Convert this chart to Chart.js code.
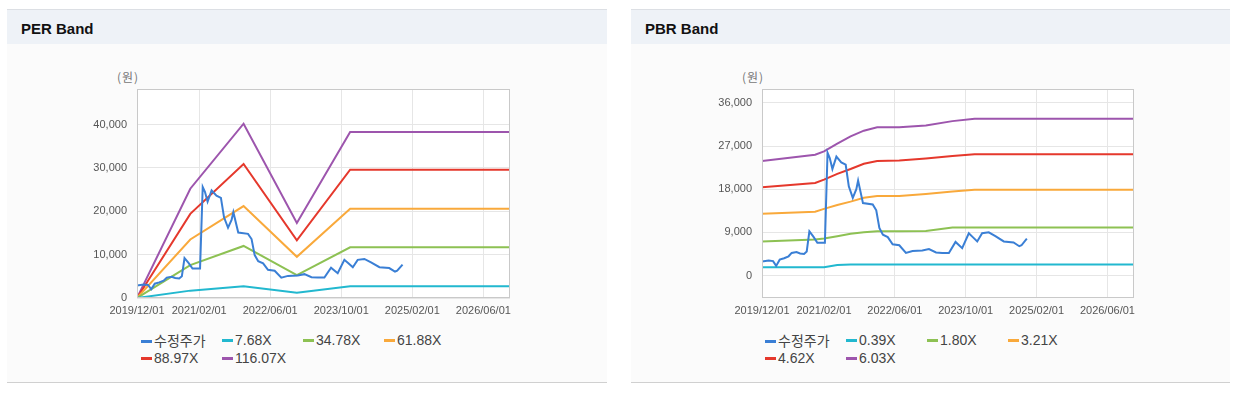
<!DOCTYPE html>
<html>
<head>
<meta charset="utf-8">
<script src="https://cdn.jsdelivr.net/npm/chart.js@4.4.1/dist/chart.umd.min.js"></script>
<style>
    body { margin: 0; width: 1239px; height: 393px; position: relative; overflow: hidden; background: #fff;
           font-family: "Liberation Sans", Arial, "Noto Sans CJK KR", sans-serif; }
    .panel { position: absolute; top: 9px; height: 372px; background: #fbfbfb;
             border-top: 1px solid #dcdfe4; border-bottom: 1px solid #d0d0d0; }
    .head { height: 34px; background: #eef2f7; font-weight: bold; font-size: 15px; line-height: 37px;
            padding-left: 14px; color: #111; }
    .unit { position: absolute; top: 68px; font-size: 12px; color: #777; letter-spacing: 1px;
            font-family: "Noto Sans CJK KR", sans-serif; }
    canvas { position: absolute; }
    .legend { position: absolute; font-size: 14px; color: #444; }
    .legend span { position: absolute; white-space: nowrap; line-height: 17px; }
    .legend i { display: inline-block; width: 11px; height: 3px; vertical-align: middle; margin-right: 2px; position: relative; top: -1px; }
    .legend .kr { font-family: "Noto Sans CJK KR", sans-serif; font-size: 14px; }
</style>
</head>
<body>
<div class="panel" style="left:7px;width:600px;"><div class="head">PER Band</div></div>
<div class="panel" style="left:631px;width:599px;"><div class="head">PBR Band</div></div>
<div class="unit" style="left:117px;">(원)</div>
<div class="unit" style="left:742px;">(원)</div>
<canvas id="per" width="440" height="240" style="left:80px;top:80px;"></canvas>
<canvas id="pbr" width="440" height="240" style="left:704px;top:80px;"></canvas>
<div class="legend" id="per-legend" style="left:141px;top:332px;"></div>
<div class="legend" id="pbr-legend" style="left:765px;top:332px;"></div>
<script>
// x 축: 2019/12 부터의 개월 수
const xTickMonths = [0, 14, 30, 46, 62, 78];
const xTickLabels = ['2019/12/01', '2021/02/01', '2022/06/01', '2023/10/01', '2025/02/01', '2026/06/01'];
const perYTicks = [0, 10000, 20000, 30000, 40000];
const pbrYTicks = [0, 9000, 18000, 27000, 36000];

// 수정주가
const priceMonths = [0, 1.5, 2.5, 3.2, 4, 5, 6, 6.7, 7.8, 8.6, 9.5, 10.1, 10.7, 11.6, 12.5, 14.2, 14.8, 15.3,
    15.9, 16.8, 17.9, 18.9, 19.6, 20.5, 21.3, 21.7, 22.8, 25, 25.8, 26.5, 27.3, 28.4, 29.5, 31, 32.5, 34,
    36.2, 37.7, 39.3, 40.7, 42.2, 43.7, 45.2, 46.7, 47.6, 48.6, 49.7, 51.2, 52.7, 54.6, 56.8, 58.1, 58.6, 59.8];
const priceValues = [2900, 3100, 3000, 2000, 3300, 3600, 4000, 4700, 4900, 4600, 4500, 5000, 9200, 8100, 6800, 6800, 25600, 24500,
    22200, 24800, 23600, 23100, 18600, 16200, 18000, 19800, 15100, 14800, 13600, 9900, 8500, 8000, 6500, 6300, 4700, 5100,
    5200, 5500, 4800, 4700, 4700, 7000, 5700, 8800, 8000, 7100, 8800, 9000, 8200, 7100, 6900, 6100, 6300, 7700];

// PER 밴드
const perBandMonths = [0, 12, 24, 36, 48, 84];
const per768 = [0, 1700, 2700, 1200, 2700, 2700];
const per3478 = [0, 7600, 12000, 5300, 11700, 11700];
const per6188 = [0, 13500, 21200, 9500, 20600, 20600];
const per8897 = [0, 19400, 30900, 13300, 29600, 29600];
const per11607 = [0, 25200, 40200, 17300, 38300, 38300];

// PBR 밴드
const pbrBandMonths = [0, 12, 14, 17, 20, 23, 26, 31, 37, 43, 48, 84];
const pbr039 = [1700, 1700, 1700, 2200, 2300, 2300, 2300, 2300, 2300, 2300, 2300, 2300];
const pbr180 = [7100, 7500, 7700, 8200, 8700, 9000, 9200, 9200, 9300, 10000, 10000, 10000];
const pbr321 = [12900, 13300, 13900, 14700, 15400, 16200, 16600, 16600, 17000, 17500, 17900, 17900];
const pbr462 = [18400, 19300, 20000, 21200, 22200, 23300, 23900, 24000, 24400, 24900, 25300, 25300];
const pbr603 = [23900, 25200, 25900, 27500, 29000, 30200, 30900, 30900, 31300, 32200, 32700, 32700];

const colors = ['#3a7fd5', '#22b8cf', '#8dc153', '#f9a93b', '#e5382c', '#9d55ad'];

Chart.defaults.font.family = '"Liberation Sans", Arial, sans-serif';
Chart.defaults.font.size = 11;
Chart.defaults.color = '#555';

const pts = (xs, ys) => xs.map((x, i) => ({ x: x, y: ys[i] }));

// 플롯 영역 흰 배경 + 테두리
const frame = {
    id: 'frame',
    beforeDraw(chart) {
        const { ctx, chartArea: a } = chart;
        ctx.save();
        ctx.fillStyle = '#fff';
        ctx.fillRect(a.left, a.top, a.width, a.height);
        ctx.restore();
    },
    afterDatasetsDraw(chart) {
        const { ctx, chartArea: a } = chart;
        ctx.save();
        ctx.strokeStyle = '#c9c9c9';
        ctx.lineWidth = 1;
        ctx.strokeRect(Math.round(a.left) + 0.5, Math.round(a.top) + 0.5, Math.round(a.width) - 1, Math.round(a.height) - 1);
        ctx.restore();
    }
};

function makeChart(id, legendId, yMin, yMax, yTicks, yAxisWidth, series) {
    const datasets = series.map((s, i) => ({
        label: s.label,
        data: s.data,
        borderColor: colors[i],
        borderWidth: 2,
        pointRadius: 0,
        tension: 0,
        fill: false
    }));

    new Chart(document.getElementById(id), {
        type: 'line',
        data: { datasets },
        options: {
            responsive: false,
            animation: false,
            layout: { padding: { top: 9, right: 10, left: 0, bottom: 0 } },
            plugins: { legend: { display: false }, tooltip: { enabled: false } },
            scales: {
                x: {
                    type: 'linear', min: 0, max: 84,
                    afterBuildTicks: s => { s.ticks = xTickMonths.map(v => ({ value: v })); },
                    afterFit: s => { s.height = 22; s.paddingLeft = 0; s.paddingRight = 0; },
                    ticks: { padding: 6, maxRotation: 0, autoSkip: false,
                             callback: (v, i) => xTickLabels[i] },
                    grid: { color: '#e6e6e6', drawTicks: false },
                    border: { display: false }
                },
                y: {
                    min: yMin, max: yMax,
                    afterBuildTicks: s => { s.ticks = yTicks.map(v => ({ value: v })); },
                    afterFit: s => { s.width = yAxisWidth; s.paddingTop = 0; s.paddingBottom = 0; },
                    ticks: { padding: 10, callback: v => v.toLocaleString('en-US') },
                    grid: { color: '#e6e6e6', drawTicks: false },
                    border: { display: false }
                }
            }
        },
        plugins: [frame]
    });

    // 범례: 4열 격자
    const box = document.getElementById(legendId);
    series.forEach((s, i) => {
        const el = document.createElement('span');
        el.style.left = (i % 4) * 81 + 'px';
        el.style.top = Math.floor(i / 4) * 18 + 'px';
        el.innerHTML = '<i style="background:' + colors[i] + '"></i>' +
            (i === 0 ? '<span class="kr" style="position:static">' + s.label + '</span>' : s.label);
        box.appendChild(el);
    });
}

makeChart('per', 'per-legend', 0, 48200, perYTicks, 57, [
    { label: '수정주가', data: pts(priceMonths, priceValues) },
    { label: '7.68X', data: pts(perBandMonths, per768) },
    { label: '34.78X', data: pts(perBandMonths, per3478) },
    { label: '61.88X', data: pts(perBandMonths, per6188) },
    { label: '88.97X', data: pts(perBandMonths, per8897) },
    { label: '116.07X', data: pts(perBandMonths, per11607) }
]);

makeChart('pbr', 'pbr-legend', -4700, 38900, pbrYTicks, 58, [
    { label: '수정주가', data: pts(priceMonths, priceValues) },
    { label: '0.39X', data: pts(pbrBandMonths, pbr039) },
    { label: '1.80X', data: pts(pbrBandMonths, pbr180) },
    { label: '3.21X', data: pts(pbrBandMonths, pbr321) },
    { label: '4.62X', data: pts(pbrBandMonths, pbr462) },
    { label: '6.03X', data: pts(pbrBandMonths, pbr603) }
]);
</script>
</body>
</html>
